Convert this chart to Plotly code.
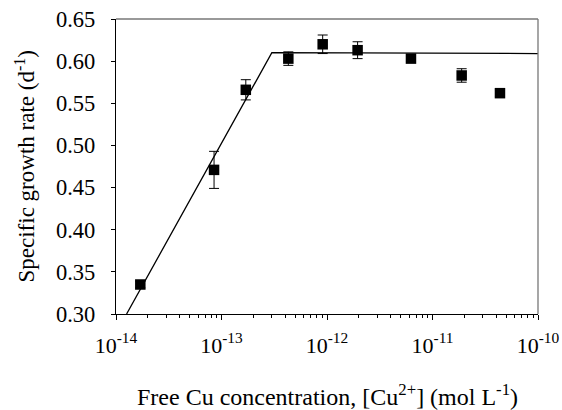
import plotly.graph_objects as go

cu_conc = [1.7e-14, 8.5e-14, 1.7e-13, 4.3e-13, 9.1e-13, 1.95e-12, 6.25e-12, 1.89e-11, 4.36e-11]
growth_rate = [0.335, 0.471, 0.566, 0.603, 0.620, 0.613, 0.603, 0.583, 0.562]
growth_err = [0.004, 0.022, 0.012, 0.008, 0.011, 0.010, 0.003, 0.008, 0.004]

fit_x = [1.26e-14, 3.0e-13, 1e-10]
fit_y = [0.30, 0.610, 0.609]

x_tickvals = [1e-14, 1e-13, 1e-12, 1e-11, 1e-10]
x_ticktext = ["10<sup>-14</sup>", "10<sup>-13</sup>", "10<sup>-12</sup>", "10<sup>-11</sup>", "10<sup>-10</sup>"]
y_tickvals = [0.30, 0.35, 0.40, 0.45, 0.50, 0.55, 0.60, 0.65]
y_ticktext = ["0.30", "0.35", "0.40", "0.45", "0.50", "0.55", "0.60", "0.65"]

x_title = "Free Cu concentration, [Cu<sup>2+</sup>] (mol L<sup>-1</sup>)"
y_title = "Specific growth rate (d<sup>-1</sup>)"

font = "Liberation Serif, Times New Roman, serif"

fig = go.Figure()
fig.add_trace(go.Scatter(x=fit_x, y=fit_y, mode="lines",
                         line=dict(color="black", width=1.3), showlegend=False))
fig.add_trace(go.Scatter(x=cu_conc, y=growth_rate, mode="markers",
                         marker=dict(symbol="square", size=10.5, color="black"),
                         error_y=dict(type="data", array=growth_err, color="black",
                                      thickness=1, width=5),
                         showlegend=False))

fig.update_layout(
    width=562, height=410,
    margin=dict(l=116, r=24, t=19, b=96),
    paper_bgcolor="white", plot_bgcolor="white",
    font=dict(family=font, size=22, color="black"),
    xaxis=dict(type="log", range=[-14, -10], automargin=False,
               tickvals=x_tickvals, ticktext=x_ticktext,
               ticks="outside", ticklen=5, tickcolor="black", tickwidth=1,
               ticklabelstandoff=6,
               minor=dict(ticks="outside", ticklen=3, tickcolor="black",
                          dtick="D1", showgrid=False),
               showline=True, linecolor="black", linewidth=1.3,
               showgrid=False, zeroline=False,
               tickfont=dict(size=22)),
    yaxis=dict(range=[0.30, 0.65], automargin=False,
               tickvals=y_tickvals, ticktext=y_ticktext,
               ticks="outside", ticklen=4, tickcolor="black", tickwidth=1,
               ticklabelstandoff=11,
               showline=True, linecolor="black", linewidth=1.3,
               showgrid=False, zeroline=False,
               tickfont=dict(size=22.5)),
    shapes=[
        dict(type="line", xref="paper", yref="paper", x0=0, x1=1, y0=1, y1=1,
             line=dict(color="#777777", width=1.3)),
        dict(type="line", xref="paper", yref="paper", x0=1, x1=1, y0=0, y1=1,
             line=dict(color="#777777", width=1.3)),
    ],
    annotations=[
        dict(text=x_title, xref="paper", yref="paper", x=0.5, y=0,
             xanchor="center", yanchor="middle", yshift=-81, showarrow=False,
             font=dict(size=24)),
        dict(text=y_title, xref="paper", yref="paper", x=0, y=0.5,
             xanchor="center", yanchor="middle", xshift=-91, textangle=-90,
             showarrow=False, font=dict(size=23)),
    ],
)

fig.write_html("out.html")
